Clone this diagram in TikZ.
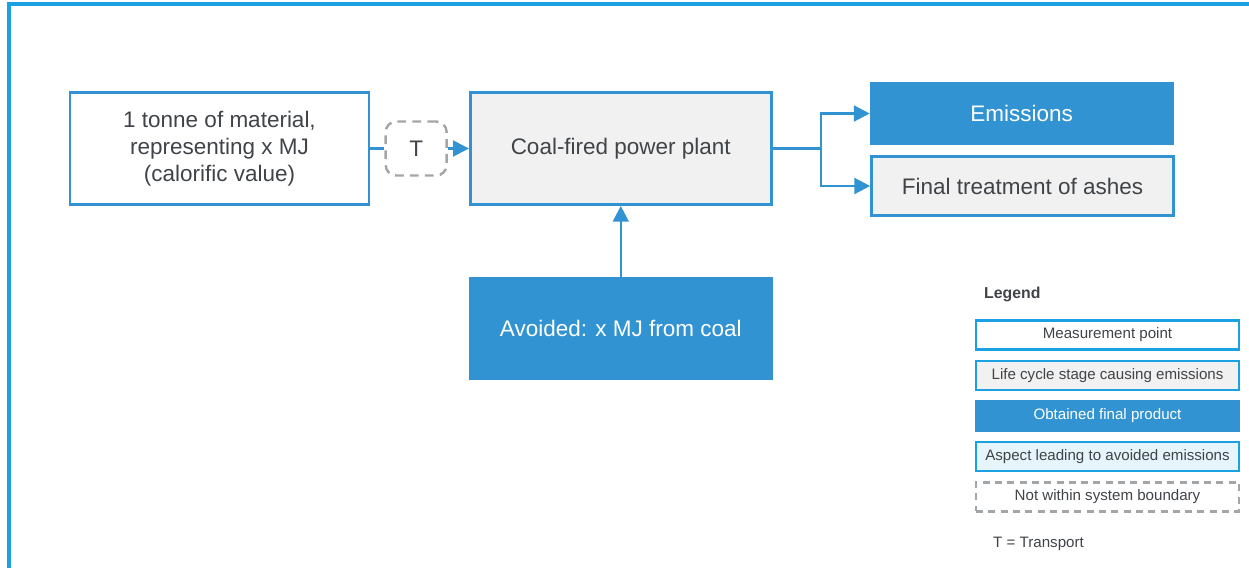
\documentclass[tikz,border=0pt]{standalone}
\usepackage{fontspec}
\setmainfont{Liberation Sans}
\usepackage{xcolor}
\usetikzlibrary{arrows.meta,positioning,calc}

\definecolor{boxblue}{HTML}{3193D1}
\definecolor{frameblue}{HTML}{1BA1E2}
\definecolor{boxgray}{HTML}{F1F1F1}
\definecolor{lightblue}{HTML}{E6F4FC}
\definecolor{dashgray}{HTML}{A3A6A9}
\definecolor{txtgray}{HTML}{404448}

\begin{document}
\begin{tikzpicture}[
    every node/.style={font=\fontsize{12.8}{15.5}\selectfont, text=txtgray},
    measure/.style={rectangle, draw=boxblue, line width=1.6pt, fill=white, align=center, minimum width=5.98cm, minimum height=2.24cm},
    stage/.style={rectangle, draw=boxblue, line width=1.6pt, fill=boxgray, align=center, minimum width=6.02cm, minimum height=2.24cm},
    product/.style={rectangle, draw=boxblue, line width=0.6pt, fill=boxblue, text=white, align=center, minimum width=6.06cm, minimum height=1.24cm},
    transport/.style={rectangle, draw=dashgray, dashed, dash pattern=on 5pt off 3.5pt, line width=1.4pt, rounded corners=6pt, minimum width=1.22cm, minimum height=1.08cm},
    legbox/.style={rectangle, draw=frameblue, line width=1.4pt, font=\fontsize{8.6}{10}\selectfont, text height=6.2pt, text depth=2pt, minimum width=5.26cm, minimum height=0.58cm},
    arrow/.style={draw=boxblue, line width=1.4pt, -{Triangle[length=9pt,width=9pt]}},
    link/.style={draw=boxblue, line width=1.4pt}
]
    \useasboundingbox (0,0) rectangle (24.98,-11.34);
    \draw [frameblue, line width=1.8pt] (0.18,-11.4) |- (25.1,-0.08);

    % main chain
    \node[measure] (material) at (4.39,-2.97) {1 tonne of material,\\representing x MJ\\(calorific value)};
    \node[transport, right=0.28cm of material] (trans) {T};
    \node[stage, right=0.42cm of trans] (plant) {Coal-fired power plant};
    \node[product, right=1.94cm of plant, yshift=0.7cm] (emis) {Emissions};
    \node[stage, minimum width=6.04cm, minimum height=1.18cm, right=1.95cm of plant, yshift=-0.75cm] (ashes) {Final treatment of ashes};
    \node[product, minimum height=2.04cm, below=1.42cm of plant] (avoided) {Avoided: x MJ from coal};

    \path [link] (material) -- (trans);
    \path [arrow] (trans) -- (plant);
    \draw [arrow] (plant.east) -- ++(0.97,0) |- (emis.west);
    \draw [arrow] (plant.east) -- ++(0.97,0) |- (ashes.west);
    \path [arrow] (avoided) -- (plant);

    % legend
    \node[anchor=west, font=\fontsize{9}{11}\selectfont\bfseries] (legtitle) at (19.56,-5.88) {Legend};
    \node[legbox, fill=white] (leg1) at (22.15,-6.70) {Measurement point};
    \node[legbox, fill=boxgray, below=0.18cm of leg1] (leg2) {Life cycle stage causing emissions};
    \node[legbox, fill=boxblue, draw=boxblue, text=white, below=0.18cm of leg2] (leg3) {Obtained final product};
    \node[legbox, fill=lightblue, below=0.18cm of leg3] (leg4) {Aspect leading to avoided emissions};
    \node[legbox, draw=dashgray, dashed, dash pattern=on 4pt off 3pt, below=0.18cm of leg4] (leg5) {Not within system boundary};
    \node[anchor=west, font=\fontsize{8.6}{10}\selectfont] (legT) at (19.74,-10.88) {T = Transport};
\end{tikzpicture}
\end{document}
